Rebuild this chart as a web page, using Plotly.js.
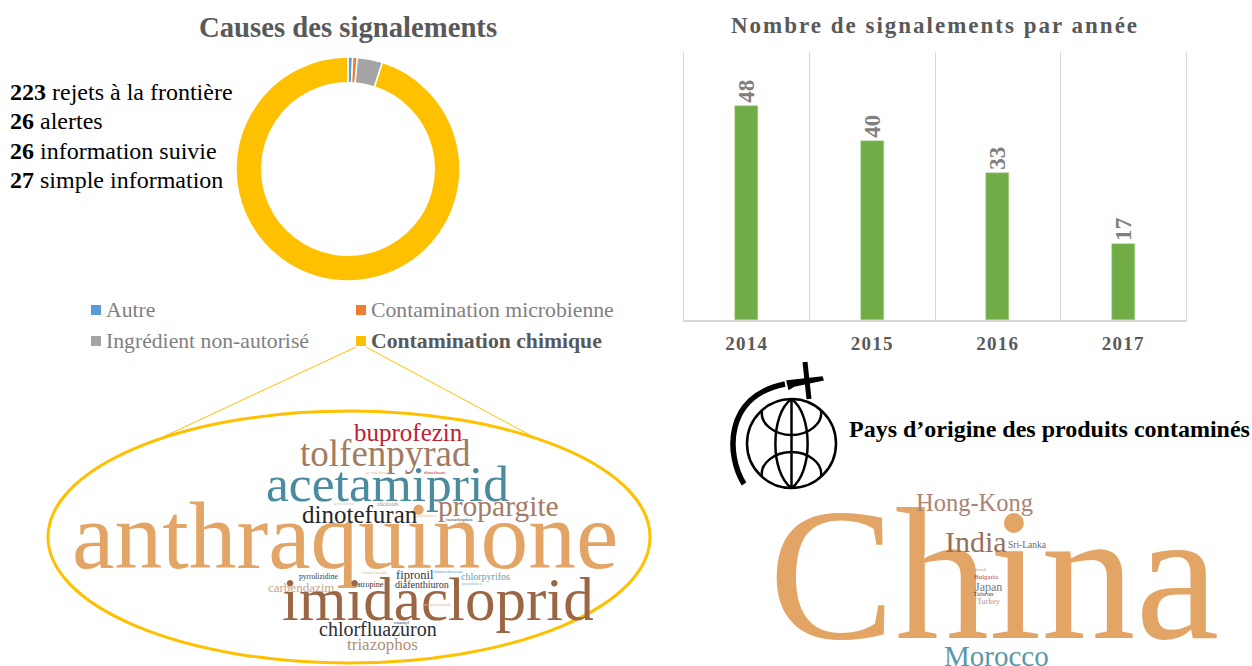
<!DOCTYPE html>
<html>
<head>
<meta charset="utf-8">
<script src="https://cdn.plot.ly/plotly-3.0.1.min.js"></script>
<style>
html,body{margin:0;padding:0;background:#fff}
#plot{width:1252px;height:666px}
.gtitle{letter-spacing:2px}
.xtick text{letter-spacing:1.3px}
</style>
</head>
<body>
<div id="plot"></div>
<script>
// donut - causes
var causes=['Autre','Contamination microbienne','Ingrédient non-autorisé','Contamination chimique'];
var causeValues=[2,2,11,287];
var causeColors=['#5B9BD5','#ED7D31','#A5A5A5','#FFC000'];

// reports per type
var reportCounts=[223,26,26,27];
var reportTypes=['rejets à la frontière','alertes','information suivie','simple information'];

// bars - reports per year
var years=['2014','2015','2016','2017'];
var yearValues=[48,40,33,17];

// word clouds
var substances=['anthraquinone','imidacloprid','acetamiprid','tolfenpyrad','buprofezin','propargite','dinotefuran',
    'chlorfluazuron','triazophos','carbendazim','pyrrolizidine','atropine','fipronil','diafenthiuron','chlorpyrifos',
    'tebufenozide','thiamethoxam','pyridaben','propiconazole','pyrethrins','alkaloids','phthalates','isocarbophos',
    'dimethoate','permethrin','oxamyl'];
var countries=['China','Hong-Kong','India','Sri-Lanka','Morocco','Brazil','Bulgaria','Japan','Taiwan','Turkey'];

// placement of the words on the page: x, y, font size, colour
var substancePlacement=[
    [344.5,536,95.5,'#E3A565'],[438,599,61,'#9C6644'],[387,483,51.5,'#4A8C9E'],[385,453,37,'#A27B62'],[408,432,25,'#C0202F'],
    [498,506,29.5,'#A37C68'],[360,514,25,'#23262B'],[378,629,20,'#2A2F35'],[382,644,17,'#B09078'],[301,587,13,'#C4A48C'],
    [318,576,7.5,'#33383E'],[370,584,8,'#33383E'],[415,575,12.5,'#33383E'],[422,584,10,'#33383E'],[485,576,10,'#5E9FB3'],
    [375,572,5,'#D9B898'],[448,571,5,'#5E9FB3'],[472,583,5,'#8FBCC8'],[437,604,5,'#D9B898'],[344,503,5,'#DDBFA5'],
    [388,504,6,'#B58E78'],[426,515,5,'#DDBFA5'],[459,519,5,'#33383E'],[435,472,5,'#C0202F'],[377,472,5,'#DDBFA5'],[402,622,5,'#33383E']
];
var countryPlacement=[
    [994,574,188.5,'#E3A565'],[974.5,502,24.5,'#A98474'],[976,541,30,'#96705E'],[1027,545,9.5,'#6A6A6A'],[996,656,29,'#5A98A8'],
    [980,569,5,'#B99A8C'],[986,577,7,'#C04050'],[988,587,12,'#6D7A88'],[983,594,7,'#345066'],[988,601,8,'#A89A94']
];

var serif='"Liberation Serif","Times New Roman",serif';

function note(text,x,y,size,color,anchor) {
    return {xref:'x2',yref:'y2',x:x,y:y,text:text,showarrow:false,xanchor:anchor||'center',yanchor:'middle',
        borderpad:0,font:{family:serif,size:size,color:color}};
}

var annotations=[];
annotations.push(note('<b>Causes des signalements</b>',348,27,28.7,'#595959'));
for (let i in reportCounts) {
    annotations.push(note('<b>'+reportCounts[i]+'</b> '+reportTypes[i],9,92+i*29.3,24,'#000000','left'));
}

// legend of the donut
var legendX=[91,356,91,356];
var legendY=[310,310,341,341];
var shapes=[];
for (let i in causes) {
    let bold=i==3;
    annotations.push(note(bold?'<b>'+causes[i]+'</b>':causes[i],legendX[i]+14,legendY[i],21.7,bold?'#595959':'#7F7F7F','left'));
    shapes.push({type:'rect',xref:'x2',yref:'y2',x0:legendX[i],x1:legendX[i]+10,y0:legendY[i]-5,y1:legendY[i]+5,
        fillcolor:causeColors[i],line:{width:0}});
}

annotations.push(note('<b>Pays d’origine des produits contaminés</b>',848,429,24,'#000000','left'));

for (let i in substances) {
    let p=substancePlacement[i];
    annotations.push(note(substances[i],p[0],p[1],p[2],p[3]));
}
for (let i in countries) {
    let p=countryPlacement[i];
    annotations.push(note(countries[i],p[0],p[1],p[2],p[3]));
}

// ellipse and the two lines going to the legend marker
shapes.push({type:'line',xref:'x2',yref:'y2',x0:356,y0:347,x1:165,y1:436,line:{color:'#FFC000',width:1}});
shapes.push({type:'line',xref:'x2',yref:'y2',x0:366,y0:347,x1:541,y1:441,line:{color:'#FFC000',width:1}});
shapes.push({type:'circle',xref:'x2',yref:'y2',x0:48,x1:650,y0:411,y1:663,line:{color:'#FFC000',width:3}});

// globe icon
function icon(path,width,fill) {
    return {type:'path',xref:'x2',yref:'y2',path:path,fillcolor:fill||'rgba(0,0,0,0)',line:{color:'#000000',width:width}};
}
shapes.push({type:'circle',xref:'x2',yref:'y2',x0:747,x1:836,y0:399,y1:488,line:{color:'#000000',width:2.5}});
shapes.push(icon('M791.5,399 L791.5,488',2.5));
shapes.push(icon('M791.5,399 C770,414 770,473 791.5,488',2.5));
shapes.push(icon('M791.5,399 C813,414 813,473 791.5,488',2.5));
shapes.push(icon('M762,411 C760,424 775,435 791.5,435 C808,435 823,424 821,411',2.5));
shapes.push(icon('M762,476 C760,463 775,452 791.5,452 C808,452 823,463 821,476',2.5));
shapes.push(icon('M744,484 C726,455 724,396 785,384',5.5));
shapes.push(icon('M787,381 L822,377 L823,380 L794,386 L789,389 Z',1.5,'#000000'));
shapes.push(icon('M805,362 L809,399',5));

var data=[
    {type:'pie',labels:causes,values:causeValues,hole:0.77,sort:false,direction:'clockwise',rotation:0,
     marker:{colors:causeColors,line:{color:'#ffffff',width:1.5}},textinfo:'none',showlegend:false,
     domain:{x:[236/1252,460/1252],y:[(666-281)/666,(666-57)/666]}},
    {type:'bar',x:years,y:yearValues,width:0.185,marker:{color:'#70AD47',line:{color:'#A9D18E',width:0.5}},
     text:yearValues.map(String),textposition:'outside',textangle:-90,cliponaxis:false,constraintext:'none',
     textfont:{family:serif,size:23,color:'#7F7F7F',weight:'bold'},showlegend:false}
];

var layout={
    width:1252,height:666,margin:{l:0,r:0,t:0,b:0},paper_bgcolor:'#ffffff',plot_bgcolor:'rgba(0,0,0,0)',
    title:{text:'<b>Nombre de signalements par année</b>',x:935/1252,xanchor:'center',y:1-25/666,yanchor:'middle',
        font:{family:serif,size:23,color:'#595959'}},
    xaxis:{domain:[684/1252,1186/1252],type:'category',tickson:'boundaries',showgrid:true,gridcolor:'#D9D9D9',gridwidth:1,
        showline:true,linecolor:'#D9D9D9',linewidth:1.5,ticklen:0,ticklabelstandoff:5,zeroline:false,
        tickfont:{family:serif,size:19,color:'#595959',weight:'bold'}},
    yaxis:{domain:[(666-320)/666,(666-52)/666],range:[0,60],showticklabels:false,ticks:'',showgrid:false,zeroline:false,
        showline:true,mirror:true,linecolor:'#D9D9D9',linewidth:1},
    // whole page in pixels, for the texts and the icon
    xaxis2:{domain:[0,1],range:[0,1252],visible:false,anchor:'y2',fixedrange:true},
    yaxis2:{domain:[0,1],range:[666,0],visible:false,anchor:'x2',fixedrange:true},
    annotations:annotations,shapes:shapes,bargap:0
};

Plotly.newPlot('plot',data,layout,{displayModeBar:false});
</script>
</body>
</html>
